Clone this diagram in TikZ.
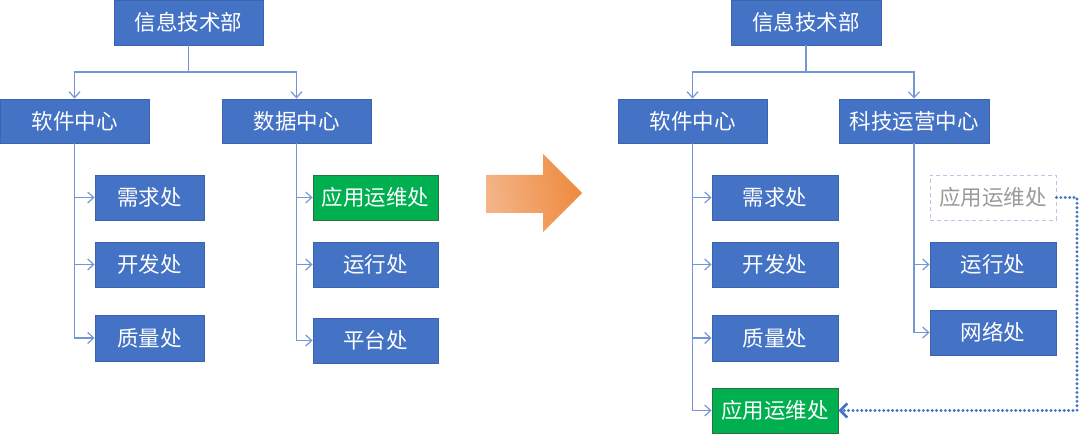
\documentclass[tikz,border=0pt]{standalone}
\usepackage{fontspec}
\newfontfamily\cjk{Noto Sans CJK SC}
\usetikzlibrary{arrows.meta}
\definecolor{boxblue}{HTML}{4472C4}
\definecolor{boxedge}{HTML}{3A64AE}
\definecolor{boxgreen}{HTML}{00B050}
\definecolor{greenedge}{HTML}{2F6F3F}
\definecolor{linkblue}{HTML}{7497D4}
\definecolor{dashblue}{HTML}{B4C7E7}
\definecolor{grayText}{HTML}{9A9A9A}
\definecolor{arrowA}{HTML}{F4B488}
\definecolor{arrowB}{HTML}{EE8A3E}
\tikzset{
  unitbox/.style={draw=boxedge, line width=0.9pt, fill=boxblue, text=white,
    inner sep=0pt, font=\cjk\fontsize{21.5}{25}\selectfont},
  greenbox/.style={unitbox, fill=boxgreen, draw=greenedge},
  ghostbox/.style={unitbox, fill=white, draw=dashblue, dash pattern=on 4pt off 3pt, text=grayText},
  link/.style={draw=linkblue, line width=1.3pt},
  linkarr/.style={link, -{Straight Barb[length=6pt,width=11pt,line width=1.2pt]}},
  moveline/.style={draw=boxblue, line width=3.2pt, line cap=round, dash pattern=on 0pt off 4.4pt,
    -{Straight Barb[length=7pt,width=14pt,line width=2.6pt]}}
}
\begin{document}
\begin{tikzpicture}[x=1pt,y=-1pt]
\useasboundingbox (0,0) rectangle (1080,435);

% ---------- left tree ----------
\node[unitbox, minimum width=149pt, minimum height=45pt] (topL) at (188.5,22.5) {信息技术部};
\node[unitbox, minimum width=149pt, minimum height=44pt] (swL) at (74.5,121) {软件中心};
\node[unitbox, minimum width=149pt, minimum height=44pt] (dcL) at (296.5,121) {数据中心};
\node[unitbox, minimum width=109pt, minimum height=45pt] (xqL) at (149.5,197.5) {需求处};
\node[unitbox, minimum width=109pt, minimum height=45pt] (kfL) at (149.5,264.5) {开发处};
\node[unitbox, minimum width=109pt, minimum height=46pt] (zlL) at (149.5,338) {质量处};
\node[greenbox, minimum width=125pt, minimum height=45pt] (ywL) at (375.5,197.5) {应用运维处};
\node[unitbox, minimum width=125pt, minimum height=45pt] (yxL) at (375.5,264.5) {运行处};
\node[unitbox, minimum width=125pt, minimum height=45pt] (ptL) at (375.5,340.5) {平台处};

\coordinate (jL) at (188.5,72);
\draw[link] (topL.south) -- (jL);
\draw[linkarr] (jL) -| (swL.north);
\draw[linkarr] (jL) -| (dcL.north);
\draw[linkarr] (swL.south) |- (xqL.west);
\draw[linkarr] (swL.south) |- (kfL.west);
\draw[linkarr] (swL.south) |- (zlL.west);
\draw[linkarr] (dcL.south) |- (ywL.west);
\draw[linkarr] (dcL.south) |- (yxL.west);
\draw[linkarr] (dcL.south) |- (ptL.west);

% ---------- big arrow ----------
\shade[left color=arrowA, right color=arrowB, shading angle=100]
  (486,175) -- (543,175) -- (543,154) -- (582,193) -- (543,232) -- (543,213) -- (486,213) -- cycle;

% ---------- right tree ----------
\node[unitbox, minimum width=150pt, minimum height=45pt] (topR) at (806,22.5) {信息技术部};
\node[unitbox, minimum width=149pt, minimum height=44pt] (swR) at (692.5,121) {软件中心};
\node[unitbox, minimum width=150pt, minimum height=44pt] (kjR) at (914,121) {科技运营中心};
\node[unitbox, minimum width=126pt, minimum height=45pt] (xqR) at (775,197.5) {需求处};
\node[unitbox, minimum width=126pt, minimum height=45pt] (kfR) at (775,264.5) {开发处};
\node[unitbox, minimum width=126pt, minimum height=46pt] (zlR) at (775,338) {质量处};
\node[greenbox, minimum width=126pt, minimum height=45pt] (ywR) at (775,410.5) {应用运维处};
\node[ghostbox, minimum width=126pt, minimum height=45pt] (ghR) at (993,197.5) {应用运维处};
\node[unitbox, minimum width=126pt, minimum height=45pt] (yxR) at (993,264.5) {运行处};
\node[unitbox, minimum width=126pt, minimum height=45pt] (wlR) at (993,332.5) {网络处};

\coordinate (jR) at (806,72);
\draw[link] (topR.south) -- (jR);
\draw[linkarr] (jR) -| (swR.north);
\draw[linkarr] (jR) -| (kjR.north);
\draw[linkarr] (swR.south) |- (xqR.west);
\draw[linkarr] (swR.south) |- (kfR.west);
\draw[linkarr] (swR.south) |- (zlR.west);
\draw[linkarr] (swR.south) |- (ywR.west);
\draw[linkarr] (kjR.south) |- (yxR.west);
\draw[linkarr] (kjR.south) |- (wlR.west);

\coordinate (bend1) at (1077,197.5);
\coordinate (bend2) at (1077,410.5);
\draw[moveline] (ghR.east) -- (bend1) -- (bend2) -- (ywR.east);
\end{tikzpicture}
\end{document}
